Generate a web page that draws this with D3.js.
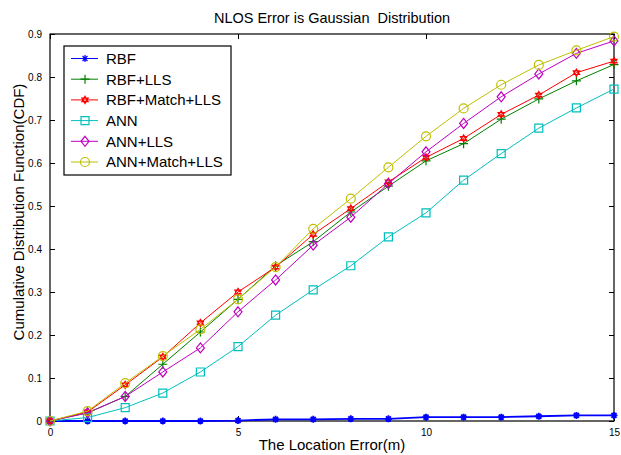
<!DOCTYPE html>
<html>
<head>
<meta charset="utf-8">
<script src="https://cdn.jsdelivr.net/npm/d3@7"></script>
<style>
  body { margin: 0; background: #fff; }
  text { font-family: "Liberation Sans", Arial, sans-serif; }
</style>
</head>
<body>
<script>
// CDF of location error, NLOS error gaussian

var errors = [0, 1, 2, 3, 4, 5, 6, 7, 8, 9, 10, 11, 12, 13, 14, 15];

var rbf        = [0, 0, 0, 0, 0, 0.001, 0.004, 0.004, 0.005, 0.005, 0.009, 0.009, 0.009, 0.011, 0.013, 0.013];
var rbfLls     = [0, 0.019, 0.057, 0.132, 0.207, 0.283, 0.361, 0.417, 0.486, 0.546, 0.605, 0.645, 0.702, 0.749, 0.791, 0.829];
var rbfMatch   = [0, 0.021, 0.084, 0.149, 0.228, 0.300, 0.358, 0.434, 0.494, 0.556, 0.613, 0.657, 0.713, 0.758, 0.810, 0.837];
var ann        = [0, 0.008, 0.031, 0.065, 0.114, 0.173, 0.246, 0.305, 0.361, 0.428, 0.484, 0.560, 0.622, 0.681, 0.728, 0.772];
var annLls     = [0, 0.019, 0.057, 0.114, 0.170, 0.254, 0.328, 0.409, 0.474, 0.552, 0.626, 0.692, 0.754, 0.807, 0.855, 0.884];
var annMatch   = [0, 0.023, 0.088, 0.151, 0.213, 0.283, 0.358, 0.447, 0.517, 0.590, 0.662, 0.727, 0.782, 0.828, 0.862, 0.894];

var seriesNames = ["RBF", "RBF+LLS", "RBF+Match+LLS", "ANN", "ANN+LLS", "ANN+Match+LLS"];
var xTicks = [0, 5, 10, 15];
var yTicks = [0, 0.1, 0.2, 0.3, 0.4, 0.5, 0.6, 0.7, 0.8, 0.9];

var series = [
  {name: seriesNames[0], values: rbf,      color: "#0000ff", marker: "asterisk"},
  {name: seriesNames[1], values: rbfLls,   color: "#008000", marker: "plus"},
  {name: seriesNames[2], values: rbfMatch, color: "#ff0000", marker: "hexagram"},
  {name: seriesNames[3], values: ann,      color: "#00bfbf", marker: "square"},
  {name: seriesNames[4], values: annLls,   color: "#bf00bf", marker: "diamond"},
  {name: seriesNames[5], values: annMatch, color: "#bfbf00", marker: "circle"}
];

var margin = {top: 34, right: 7, bottom: 34, left: 50},
    width = 621 - margin.left - margin.right,
    height = 455 - margin.top - margin.bottom;

var x = d3.scaleLinear().domain([0, 15]).range([0, width]);
var y = d3.scaleLinear().domain([0, 0.9]).range([height, 0]);

var svg = d3.select("body").append("svg")
    .attr("width", 621)
    .attr("height", 455);

var g = svg.append("g")
    .attr("transform", "translate(" + margin.left + "," + margin.top + ")");

// marker shapes, drawn around (0,0)
function markerPath(type) {
  var p = d3.path();
  if (type === "square") {
    p.rect(-4, -4, 8, 8);
  } else if (type === "diamond") {
    p.moveTo(0, -5); p.lineTo(4, 0); p.lineTo(0, 5); p.lineTo(-4, 0); p.closePath();
  } else if (type === "circle") {
    p.moveTo(4.5, 0); p.arc(0, 0, 4.5, 0, 2 * Math.PI);
  } else if (type === "plus") {
    p.moveTo(-4.5, 0); p.lineTo(4.5, 0); p.moveTo(0, -4.5); p.lineTo(0, 4.5);
  } else if (type === "asterisk") {
    for (var i = 0; i < 4; i++) {
      var a = i * Math.PI / 4;
      p.moveTo(-3.5 * Math.cos(a), -3.5 * Math.sin(a));
      p.lineTo(3.5 * Math.cos(a), 3.5 * Math.sin(a));
    }
  } else if (type === "hexagram") {
    var r = 3.6;
    for (var k = 0; k < 2; k++) {
      for (var j = 0; j < 3; j++) {
        var t = -Math.PI / 2 + k * Math.PI / 3 + j * 2 * Math.PI / 3;
        if (j === 0) p.moveTo(r * Math.cos(t), r * Math.sin(t));
        else p.lineTo(r * Math.cos(t), r * Math.sin(t));
      }
      p.closePath();
    }
  }
  return p.toString();
}

function markerFill(s) {
  return s.marker === "asterisk" ? s.color : "none";
}

// axes box
g.append("rect")
    .attr("width", width)
    .attr("height", height)
    .attr("fill", "none")
    .attr("stroke", "#000")
    .attr("stroke-width", 1.2);

// ticks (inward, on all four sides)
g.append("g")
    .attr("transform", "translate(0," + height + ")")
    .call(d3.axisBottom(x).tickValues(xTicks).tickSizeInner(-5).tickSizeOuter(0).tickPadding(8).tickFormat(d3.format("d")))
    .call(function(a) { a.select(".domain").remove(); });
g.append("g")
    .call(d3.axisTop(x).tickValues(xTicks).tickSizeInner(-5).tickSizeOuter(0).tickFormat(""))
    .call(function(a) { a.select(".domain").remove(); });
g.append("g")
    .call(d3.axisLeft(y).tickValues(yTicks).tickSizeInner(-5).tickSizeOuter(0).tickPadding(8).tickFormat(function(d) { return d === 0 ? "0" : d3.format(".1f")(d); }))
    .call(function(a) { a.select(".domain").remove(); });
g.append("g")
    .attr("transform", "translate(" + width + ",0)")
    .call(d3.axisRight(y).tickValues(yTicks).tickSizeInner(-5).tickSizeOuter(0).tickFormat(""))
    .call(function(a) { a.select(".domain").remove(); });

g.selectAll(".tick text")
    .style("font-size", "10px")
    .style("font-family", "Liberation Sans, Arial, sans-serif")
    .attr("fill", "#000");

var line = d3.line()
    .x(function(d, i) { return x(errors[i]); })
    .y(function(d) { return y(d); });

series.forEach(function(s) {
  g.append("path")
      .datum(s.values)
      .attr("fill", "none")
      .attr("stroke", s.color)
      .attr("stroke-width", s.name === "RBF" ? 1.8 : 1)
      .attr("d", line);
  g.selectAll(null)
      .data(s.values)
    .enter().append("path")
      .attr("transform", function(d, i) { return "translate(" + x(errors[i]) + "," + y(d) + ")"; })
      .attr("d", markerPath(s.marker))
      .attr("fill", markerFill(s))
      .attr("stroke", s.color)
      .attr("stroke-width", s.marker === "asterisk" ? 1.8 : 1.2);
});

// legend
var legend = g.append("g").attr("transform", "translate(14,12)");
legend.append("rect")
    .attr("width", 167)
    .attr("height", 129)
    .attr("fill", "#fff")
    .attr("stroke", "#000")
    .attr("stroke-width", 1.2);

series.forEach(function(s, i) {
  var row = legend.append("g").attr("transform", "translate(0," + (12.5 + i * 20.7) + ")");
  row.append("line")
      .attr("x1", 7).attr("x2", 34)
      .attr("stroke", s.color)
      .attr("stroke-width", 1);
  row.append("path")
      .attr("transform", "translate(21,0)")
      .attr("d", markerPath(s.marker))
      .attr("fill", markerFill(s))
      .attr("stroke", s.color)
      .attr("stroke-width", 1.2);
  row.append("text")
      .attr("x", 42)
      .attr("dy", "0.36em")
      .style("font-size", "15px")
      .text(s.name);
});

// title and axis labels
svg.append("text")
    .attr("x", margin.left + width / 2)
    .attr("y", 23)
    .style("text-anchor", "middle")
    .style("font-size", "14.5px")
    .style("white-space", "pre")
    .attr("xml:space", "preserve")
    .text("NLOS Error is Gaussian  Distribution");

svg.append("text")
    .attr("x", margin.left + width / 2)
    .attr("y", 450)
    .style("text-anchor", "middle")
    .style("font-size", "15px")
    .text("The Location Error(m)");

svg.append("text")
    .attr("transform", "rotate(-90)")
    .attr("x", -212)
    .attr("y", 24)
    .style("text-anchor", "middle")
    .style("font-size", "15px")
    .text("Cumulative Distribution Function(CDF)");
</script>
</body>
</html>
